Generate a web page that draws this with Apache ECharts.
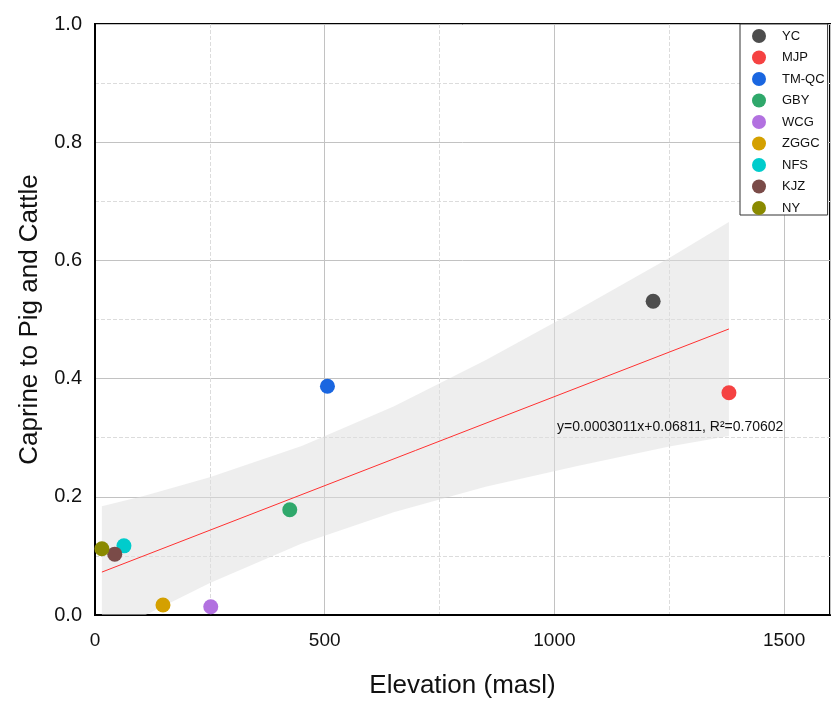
<!DOCTYPE html>
<html>
<head>
<meta charset="utf-8">
<script src="https://cdn.jsdelivr.net/npm/echarts@6/dist/echarts.min.js"></script>
<style>
  html, body { margin: 0; padding: 0; background: #fff; }
  #chart { width: 831px; height: 704px; }
</style>
</head>
<body>
<div id="chart"></div>
<script>
// sites and their elevation / caprine ratio
const sites = ['YC', 'MJP', 'TM-QC', 'GBY', 'WCG', 'ZGGC', 'NFS', 'KJZ', 'NY'];
const elevation = [1215, 1380, 506, 424, 252, 148, 63, 43, 15];
const ratio = [0.531, 0.376, 0.387, 0.178, 0.014, 0.017, 0.117, 0.103, 0.112];
const siteColors = ['#4d4d4d', '#f54242', '#1a66e0', '#2fa86b', '#b271e0', '#d4a000', '#00cccc', '#7a4b48', '#8a8a00'];

// fitted line end points and confidence band edges
const fitX = [15, 1380];
const fitY = [0.0726, 0.484];
const bandX = [15, 110, 250, 450, 650, 850, 1050, 1250, 1380];
const bandUpper = [0.184, 0.202, 0.233, 0.286, 0.353, 0.431, 0.516, 0.604, 0.665];
const bandLower = [-0.039, 0.0, 0.054, 0.121, 0.174, 0.217, 0.252, 0.285, 0.303];

const equation = 'y=0.0003011x+0.06811, R\u00b2=0.70602';

const font = '"Liberation Sans", Arial, sans-serif';

const chart = echarts.init(document.getElementById('chart'));

const scatterSeries = sites.map((name, i) => ({
  name: name,
  type: 'scatter',
  symbolSize: 15,
  itemStyle: { color: siteColors[i], opacity: 1 },
  data: [[elevation[i], ratio[i]]],
  z: 5,
}));

chart.setOption({
  animation: false,
  grid: {
    left: 95,
    right: 1,
    top: 24,
    bottom: 89,
    outerBoundsMode: 'none',
    show: true,
    borderColor: '#000',
    borderWidth: 2,
  },
  legend: {
    data: sites,
    orient: 'vertical',
    left: 740,
    top: 24,
    icon: 'circle',
    itemWidth: 36,
    itemHeight: 14,
    itemGap: 7.5,
    padding: [5, 3, 0, 12],
    backgroundColor: '#fff',
    borderColor: '#333',
    borderWidth: 1,
    textStyle: { fontFamily: font, fontSize: 13, color: '#111' },
  },
  xAxis: {
    type: 'value',
    min: 0,
    max: 1600,
    interval: 500,
    name: 'Elevation (masl)',
    nameLocation: 'middle',
    nameGap: 58,
    nameTextStyle: { fontFamily: font, fontSize: 26, color: '#111' },
    axisLine: { show: true, onZero: false, lineStyle: { color: '#000', width: 2 } },
    axisTick: { show: false },
    axisLabel: {
      fontFamily: font, fontSize: 19, color: '#111', margin: 16,
      showMaxLabel: false,
      formatter: v => String(v),
    },
    splitLine: { show: true, lineStyle: { color: '#c2c2c2', width: 1 } },
    minorTick: { show: false, splitNumber: 2 },
    minorSplitLine: { show: true, lineStyle: { color: '#dcdcdc', type: 'dashed', width: 1 } },
  },
  yAxis: {
    type: 'value',
    min: 0,
    max: 1,
    interval: 0.2,
    name: 'Caprine to Pig and Cattle',
    nameLocation: 'middle',
    nameGap: 52,
    nameTextStyle: { fontFamily: font, fontSize: 26, color: '#111' },
    axisLine: { show: true, lineStyle: { color: '#000', width: 2 } },
    axisTick: { show: false },
    axisLabel: {
      fontFamily: font, fontSize: 20, color: '#111', margin: 13,
      formatter: v => v.toFixed(1),
    },
    splitLine: { show: true, lineStyle: { color: '#c2c2c2', width: 1 } },
    minorTick: { show: false, splitNumber: 2 },
    minorSplitLine: { show: true, lineStyle: { color: '#dcdcdc', type: 'dashed', width: 1 } },
  },
  series: [
    {
      name: 'band',
      type: 'custom',
      clip: true,
      silent: true,
      z: 1,
      data: [[bandX[0], bandUpper[0]]],
      renderItem: (params, api) => {
        const pts = [];
        bandX.forEach((x, i) => pts.push(api.coord([x, bandUpper[i]])));
        for (let i = bandX.length - 1; i >= 0; i--) pts.push(api.coord([bandX[i], bandLower[i]]));
        return { type: 'polygon', shape: { points: pts }, style: { fill: 'rgba(222,222,222,0.5)' } };
      },
    },
    {
      name: 'fit',
      type: 'line',
      showSymbol: false,
      silent: true,
      z: 3,
      lineStyle: { color: '#ff3030', width: 1 },
      data: fitX.map((x, i) => [x, fitY[i]]),
    },
    ...scatterSeries,
  ],
  graphic: [
    {
      type: 'text',
      left: 557,
      top: 420,
      z: 10,
      style: { text: equation, font: '14px ' + font, fill: '#111' },
    },
  ],
});
</script>
</body>
</html>
